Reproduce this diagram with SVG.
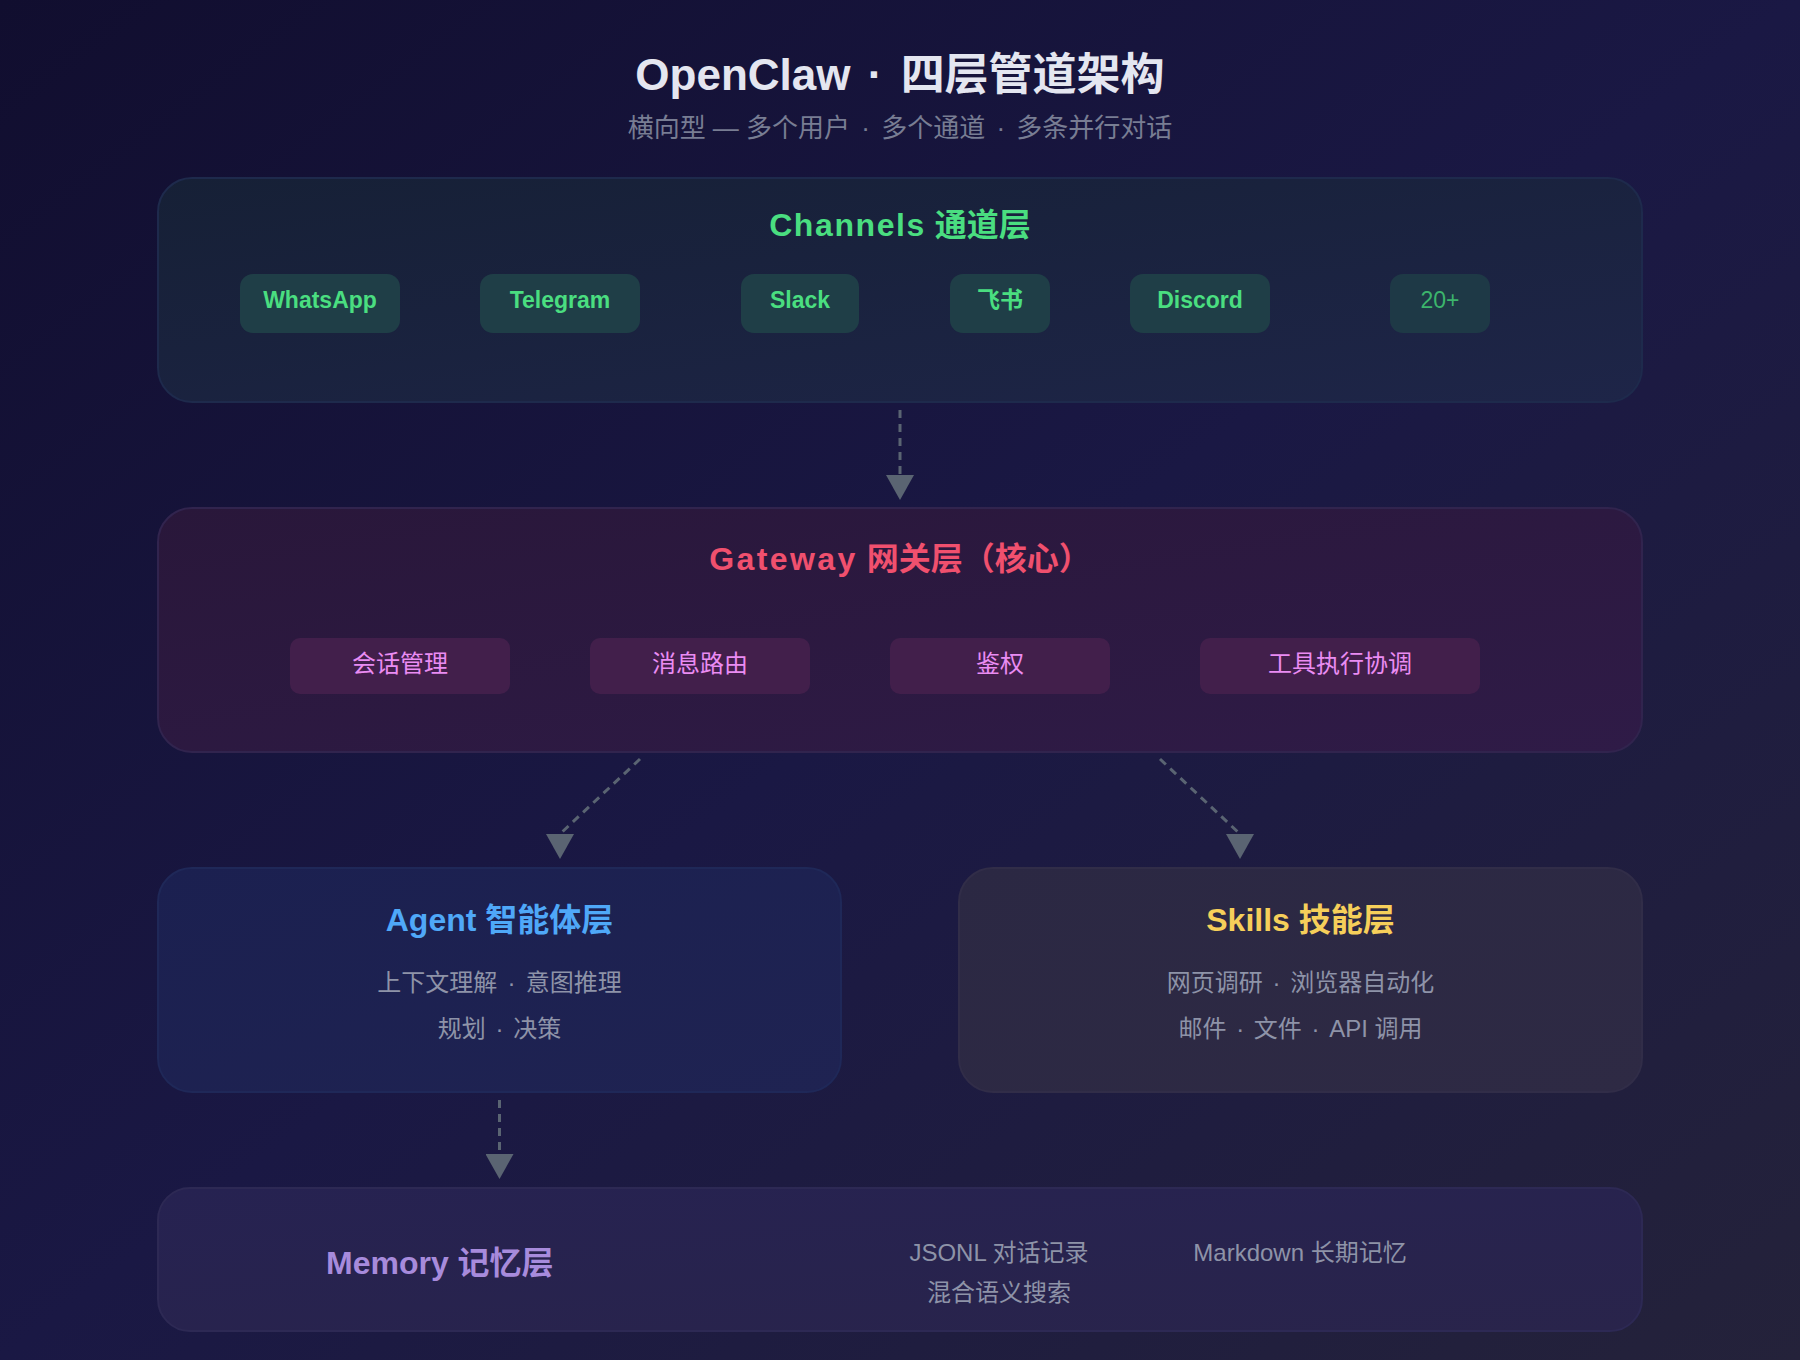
<svg xmlns="http://www.w3.org/2000/svg" width="1800" height="1360" viewBox="0 0 1800 1360">
  <defs>
    <linearGradient id="bg" x1="0" y1="0" x2="1" y2="1">
      <stop offset="0" stop-color="#110e2f"/>
      <stop offset="0.5" stop-color="#1a1844"/>
      <stop offset="1" stop-color="#24223a"/>
    </linearGradient>
    <linearGradient id="gCh" x1="0" y1="0" x2="1" y2="1">
      <stop offset="0" stop-color="#162036"/>
      <stop offset="1" stop-color="#1e2548"/>
    </linearGradient>
    <linearGradient id="gGw" x1="0" y1="0" x2="1" y2="1">
      <stop offset="0" stop-color="#29173a"/>
      <stop offset="1" stop-color="#2f1b47"/>
    </linearGradient>
    <linearGradient id="gAg" x1="0" y1="0" x2="1" y2="1">
      <stop offset="0" stop-color="#1b2050"/>
      <stop offset="1" stop-color="#1f2352"/>
    </linearGradient>
    <linearGradient id="gSk" x1="0" y1="0" x2="1" y2="1">
      <stop offset="0" stop-color="#2b2843"/>
      <stop offset="1" stop-color="#2e2a44"/>
    </linearGradient>
    <linearGradient id="gMe" x1="0" y1="0" x2="1" y2="1">
      <stop offset="0" stop-color="#262251"/>
      <stop offset="1" stop-color="#29244b"/>
    </linearGradient>
    <marker id="ah" viewBox="0 0 28 25" refX="14" refY="0" markerWidth="28" markerHeight="25" markerUnits="userSpaceOnUse" orient="0">
      <path d="M0,0 L28,0 L14,25 Z" fill="#5a6472"/>
    </marker>
  </defs>
  <style>
    text { font-family: "Liberation Sans", "Noto Sans CJK SC", sans-serif; text-anchor: middle; }
    .title { font-size: 44px; font-weight: 700; fill: #e4e6f0; }
    .subtitle { font-size: 26px; fill: #787d93; }
    .layer { font-size: 32px; font-weight: 700; }
    .pill { fill: #1f3e47; }
    .pilltxt { font-size: 23px; font-weight: 600; fill: #4ade80; }
    .chip { fill: #421f4b; }
    .chiptxt { font-size: 24px; fill: #ea8cf3; }
    .desc { font-size: 24px; fill: #8e93a8; }
    .conn { fill: none; stroke: #5a6472; stroke-width: 3; stroke-dasharray: 8 6; marker-end: url(#ah); }
  </style>

  <rect x="0" y="0" width="1800" height="1360" fill="url(#bg)"/>

  <g id="header">
    <text class="title" x="900" y="90">OpenClaw <tspan dx="5">·</tspan> <tspan dx="6">四层管道架构</tspan></text>
    <text class="subtitle" x="900" y="137">横向型 — 多个用户 <tspan dx="4">·</tspan> <tspan dx="4">多个通道</tspan> <tspan dx="4">·</tspan> <tspan dx="4">多条并行对话</tspan></text>
  </g>

  <g id="channels">
    <rect x="158" y="178" width="1484" height="224" rx="34" fill="url(#gCh)" stroke="#1e2a4c" stroke-width="2"/>
    <text class="layer" x="900" y="236" fill="#4ade80"><tspan letter-spacing="1.6">Channels</tspan> 通道层</text>
    <g id="ch-whatsapp">
      <rect class="pill" x="240" y="274" width="160" height="59" rx="13"/>
      <text class="pilltxt" x="320" y="308">WhatsApp</text>
    </g>
    <g id="ch-telegram">
      <rect class="pill" x="480" y="274" width="160" height="59" rx="13"/>
      <text class="pilltxt" x="560" y="308">Telegram</text>
    </g>
    <g id="ch-slack">
      <rect class="pill" x="741" y="274" width="118" height="59" rx="13"/>
      <text class="pilltxt" x="800" y="308">Slack</text>
    </g>
    <g id="ch-feishu">
      <rect class="pill" x="950" y="274" width="100" height="59" rx="13"/>
      <text class="pilltxt" x="1000" y="308">飞书</text>
    </g>
    <g id="ch-discord">
      <rect class="pill" x="1130" y="274" width="140" height="59" rx="13"/>
      <text class="pilltxt" x="1200" y="308">Discord</text>
    </g>
    <g id="ch-more">
      <rect class="pill" x="1390" y="274" width="100" height="59" rx="13" opacity="0.8"/>
      <text class="pilltxt" x="1440" y="308" style="font-weight:400;fill:#3cb56c">20+</text>
    </g>
  </g>

  <g id="gateway">
    <rect x="158" y="508" width="1484" height="244" rx="34" fill="url(#gGw)" stroke="#31244e" stroke-width="2"/>
    <text class="layer" x="900" y="570" fill="#f0506e"><tspan letter-spacing="2.4">Gateway</tspan> 网关层（核心）</text>
    <g id="gw-session">
      <rect class="chip" x="290" y="638" width="220" height="56" rx="10"/>
      <text class="chiptxt" x="400" y="672">会话管理</text>
    </g>
    <g id="gw-routing">
      <rect class="chip" x="590" y="638" width="220" height="56" rx="10"/>
      <text class="chiptxt" x="700" y="672">消息路由</text>
    </g>
    <g id="gw-auth">
      <rect class="chip" x="890" y="638" width="220" height="56" rx="10"/>
      <text class="chiptxt" x="1000" y="672">鉴权</text>
    </g>
    <g id="gw-tools">
      <rect class="chip" x="1200" y="638" width="280" height="56" rx="10"/>
      <text class="chiptxt" x="1340" y="672">工具执行协调</text>
    </g>
  </g>

  <g id="agent">
    <rect x="158" y="868" width="683" height="224" rx="34" fill="url(#gAg)" stroke="#1f2858" stroke-width="2"/>
    <text class="layer" x="499.5" y="931" fill="#4fa8f8">Agent 智能体层</text>
    <text class="desc" x="499.5" y="991">上下文理解 <tspan dx="3.5">·</tspan> <tspan dx="3.5">意图推理</tspan></text>
    <text class="desc" x="499.5" y="1037">规划 <tspan dx="3">·</tspan> <tspan dx="3">决策</tspan></text>
  </g>

  <g id="skills">
    <rect x="959" y="868" width="683" height="224" rx="34" fill="url(#gSk)" stroke="#312d48" stroke-width="2"/>
    <text class="layer" x="1300.5" y="931" fill="#f6cf5a">Skills 技能层</text>
    <text class="desc" x="1300.5" y="991">网页调研 <tspan dx="3">·</tspan> <tspan dx="3">浏览器自动化</tspan></text>
    <text class="desc" x="1300.5" y="1037">邮件 <tspan dx="3">·</tspan> <tspan dx="3">文件</tspan> <tspan dx="3">·</tspan> <tspan dx="3">API 调用</tspan></text>
  </g>

  <g id="memory">
    <rect x="158" y="1188" width="1484" height="143" rx="32" fill="url(#gMe)" stroke="#2d2954" stroke-width="2"/>
    <text class="layer" x="326" y="1274" fill="#a78bdc" style="text-anchor:start">Memory 记忆层</text>
    <text class="desc" x="999" y="1261">JSONL 对话记录</text>
    <text class="desc" x="999" y="1301">混合语义搜索</text>
    <text class="desc" x="1300" y="1261">Markdown 长期记忆</text>
  </g>

  <g id="connectors">
    <path class="conn" d="M900,410 L900,475"/>
    <path class="conn" d="M640,759 L560,834"/>
    <path class="conn" d="M1160,759 L1240,834"/>
    <path class="conn" d="M499.5,1100 L499.5,1154"/>
  </g>
</svg>
